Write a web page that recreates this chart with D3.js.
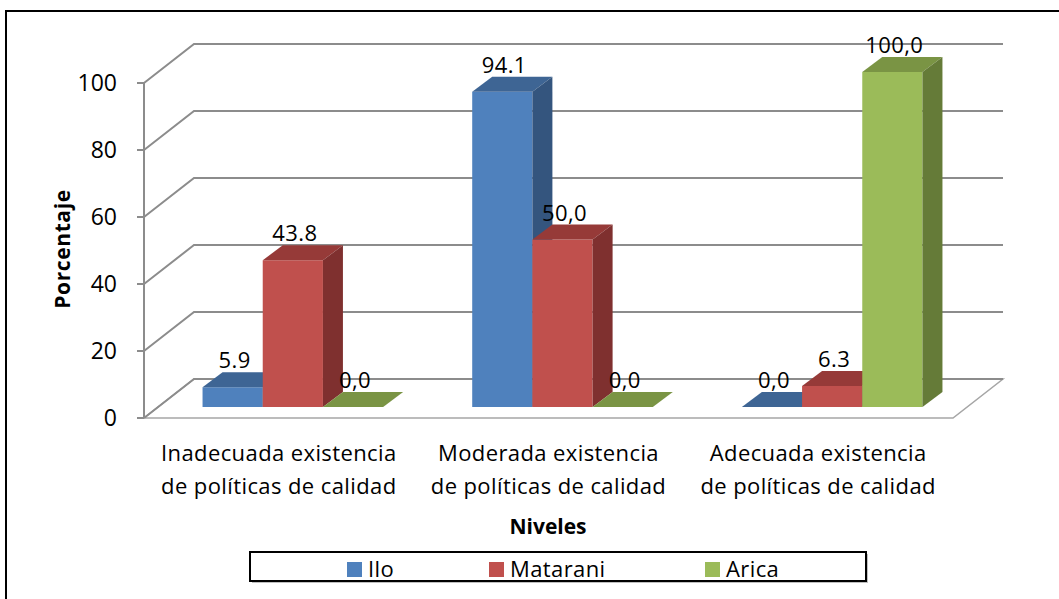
<!DOCTYPE html>
<html>
<head>
<meta charset="utf-8">
<script src="https://cdn.jsdelivr.net/npm/d3@7"></script>
<style>
  body { margin: 0; background: #fff; }
  svg { display: block; }
  text { font-family: "Open Sans", Lato, sans-serif; fill: #000; }
</style>
</head>
<body>
<svg id="chart" width="1059" height="599"></svg>
<script>
// Categories (two lines each), series names and values
const categoryLines = [
  ["Inadecuada existencia", "de políticas de calidad"],
  ["Moderada existencia", "de políticas de calidad"],
  ["Adecuada existencia", "de políticas de calidad"]
];
const seriesNames = ["Ilo", "Matarani", "Arica"];
const iloValues = [5.9, 94.1, 0.0];
const mataraniValues = [43.8, 50.0, 6.3];
const aricaValues = [0.0, 0.0, 100.0];
const iloLabels = ["5.9", "94.1", "0,0"];
const mataraniLabels = ["43.8", "50,0", "6.3"];
const aricaLabels = ["0,0", "0,0", "100,0"];
const yTicks = [0, 20, 40, 60, 80, 100];

const seriesValues = [iloValues, mataraniValues, aricaValues];
const seriesLabels = [iloLabels, mataraniLabels, aricaLabels];
const colors = [
  { front: "#4F81BD", top: "#3E6594", side: "#34557E" },
  { front: "#C0504D", top: "#963A38", side: "#7F302F" },
  { front: "#9BBB59", top: "#7A9444", side: "#657B38" }
];

const svg = d3.select("#chart");

// Outer chart frame
svg.append("rect")
  .attr("x", 6).attr("y", 11).attr("width", 1100).attr("height", 700)
  .attr("fill", "none").attr("stroke", "#000").attr("stroke-width", 2);

// Plot geometry: front plane + depth offset of the back wall
const x0 = 144, x1 = 953;
const depth = { dx: 50, dy: -39 };
const y = d3.scaleLinear().domain([0, 100]).range([418, 83]);

// Bars sit partway into the floor
const barOff = { dx: 14, dy: -11 };
const barDepth = { dx: 20, dy: -15 };

const xCat = d3.scaleBand()
  .domain(d3.range(categoryLines.length))
  .range([x0, x1]);
const xSeries = d3.scaleBand()
  .domain(d3.range(seriesNames.length))
  .range([0, xCat.bandwidth()])
  .paddingInner(0).paddingOuter(0.74);

const gridColor = "#8C8C8C";

// Floor
svg.append("path")
  .attr("d", `M${x0},${y(0)} L${x1},${y(0)} L${x1 + depth.dx},${y(0) + depth.dy} L${x0 + depth.dx},${y(0) + depth.dy} Z`)
  .attr("fill", "#fff").attr("stroke", "#A6A6A6").attr("stroke-width", 1.5);

// Gridlines on the left wall and back wall
svg.append("g").selectAll("path").data(yTicks).join("path")
  .attr("d", v => `M${x0},${y(v)} L${x0 + depth.dx},${y(v) + depth.dy} L${x1 + depth.dx},${y(v) + depth.dy}`)
  .attr("fill", "none").attr("stroke", gridColor).attr("stroke-width", 2);

// Vertical axis with tick marks
const axisG = svg.append("g");
axisG.append("line")
  .attr("x1", x0).attr("x2", x0).attr("y1", y(100)).attr("y2", y(0))
  .attr("stroke", gridColor).attr("stroke-width", 2);
axisG.selectAll("line.tick").data(yTicks).join("line")
  .attr("class", "tick")
  .attr("x1", x0 - 7).attr("x2", x0).attr("y1", d => y(d)).attr("y2", d => y(d))
  .attr("stroke", gridColor).attr("stroke-width", 2);
axisG.selectAll("text").data(yTicks).join("text")
  .attr("x", 117).attr("y", d => y(d)).attr("dy", "0.36em")
  .attr("text-anchor", "end").attr("font-size", 23)
  .text(d => d);

// Bars drawn left to right so later bars cover earlier side faces
const bars = [];
categoryLines.forEach((c, ci) => {
  seriesNames.forEach((s, si) => {
    bars.push({ ci, si, v: seriesValues[si][ci], label: seriesLabels[si][ci] });
  });
});
const bw = xSeries.bandwidth();
const barG = svg.append("g");
bars.forEach(b => {
  const fx = xCat(b.ci) + xSeries(b.si) + barOff.dx;
  const fyB = y(0) + barOff.dy;
  const fyT = y(b.v) + barOff.dy;
  const c = colors[b.si];
  const g = barG.append("g");
  g.append("path")
    .attr("d", `M${fx},${fyB} L${fx},${fyT} L${fx + bw},${fyT} L${fx + bw},${fyB} Z`)
    .attr("fill", c.front);
  g.append("path")
    .attr("d", `M${fx},${fyT} L${fx + barDepth.dx},${fyT + barDepth.dy} L${fx + bw + barDepth.dx},${fyT + barDepth.dy} L${fx + bw},${fyT} Z`)
    .attr("fill", c.top);
  g.append("path")
    .attr("d", `M${fx + bw},${fyB} L${fx + bw},${fyT} L${fx + bw + barDepth.dx},${fyT + barDepth.dy} L${fx + bw + barDepth.dx},${fyB + barDepth.dy} Z`)
    .attr("fill", c.side);
  b.cx = fx + bw / 2 + 2;
  b.labelY = fyT + barDepth.dy - 4;
});

// Value labels
svg.append("g").selectAll("text").data(bars).join("text")
  .attr("x", d => d.cx).attr("y", d => d.labelY)
  .attr("text-anchor", "middle").attr("font-size", 22).attr("letter-spacing", 0.4)
  .text(d => d.label);

// Category labels
const catG = svg.append("g");
categoryLines.forEach((lines, ci) => {
  const cx = xCat(ci) + xCat.bandwidth() / 2;
  lines.forEach((ln, li) => {
    catG.append("text")
      .attr("x", cx).attr("y", 461 + li * 33)
      .attr("text-anchor", "middle").attr("font-size", 22).attr("letter-spacing", 0.4)
      .text(ln);
  });
});

// Axis titles
svg.append("text")
  .attr("transform", "translate(70,249) rotate(-90)")
  .attr("text-anchor", "middle").attr("font-size", 21).attr("font-weight", "bold")
  .attr("letter-spacing", 0.6)
  .text("Porcentaje");
svg.append("text")
  .attr("x", 548).attr("y", 534)
  .attr("text-anchor", "middle").attr("font-size", 21).attr("font-weight", "bold")
  .text("Niveles");

// Legend
const legend = svg.append("g");
legend.append("rect")
  .attr("x", 252).attr("y", 554).attr("width", 616).attr("height", 29)
  .attr("fill", "#BFBFBF");
legend.append("rect")
  .attr("x", 250).attr("y", 552).attr("width", 616).attr("height", 29)
  .attr("fill", "#fff").attr("stroke", "#000").attr("stroke-width", 2);
const legendX = [347, 489, 705];
seriesNames.forEach((s, i) => {
  legend.append("rect")
    .attr("x", legendX[i]).attr("y", 562).attr("width", 15).attr("height", 15)
    .attr("fill", colors[i].front);
  legend.append("text")
    .attr("x", legendX[i] + 21).attr("y", 577)
    .attr("font-size", 22).attr("letter-spacing", 0.4)
    .text(s);
});
</script>
</body>
</html>
